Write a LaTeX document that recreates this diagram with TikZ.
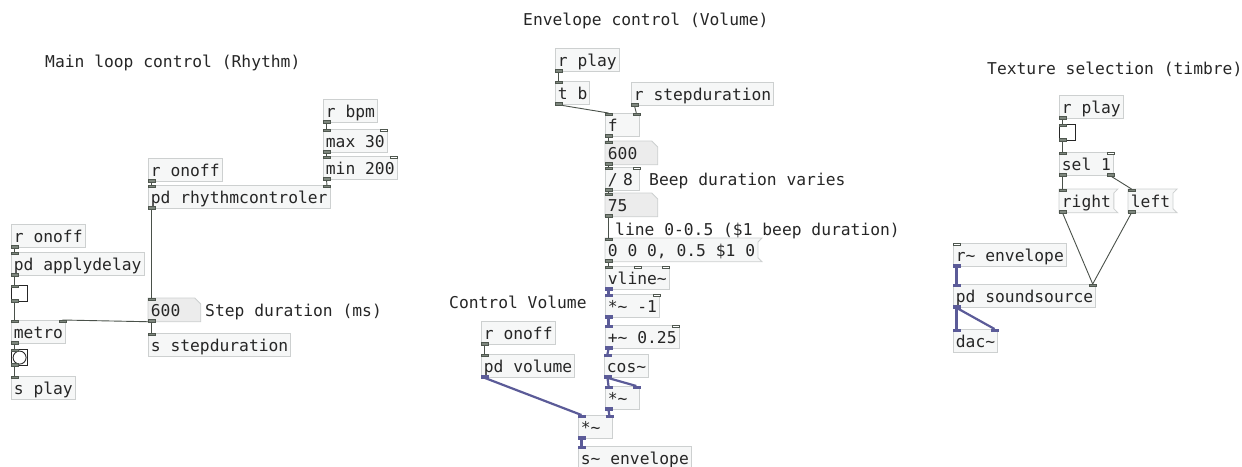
\documentclass[tikz,border=0pt]{standalone}
\usepackage{fontspec}
\setmonofont{DejaVu Sans Mono}
\pgfdeclarelayer{bg}
\pgfsetlayers{bg,main}

\definecolor{boxfill}{HTML}{F6F7F7}
\definecolor{boxline}{HTML}{CDD0D0}
\definecolor{numfill}{HTML}{ECECEC}
\definecolor{iofill}{HTML}{7D867D}
\definecolor{ioline}{HTML}{4F574F}
\definecolor{wirec}{HTML}{4A514A}
\definecolor{sigc}{HTML}{5B5B98}
\definecolor{inkc}{HTML}{262626}

\tikzset{
  obj/.style={draw=boxline, fill=boxfill, anchor=north west, inner xsep=2.5pt, inner ysep=1.5pt,
    text height=16.5pt, text depth=3.5pt, text=inkc, line width=0.8pt},
  short/.style={text width=29pt, align=left},
  numbox/.style={obj, draw=none, fill=none, text width=47pt, align=left},
  msgbox/.style={obj, draw=none, fill=none},
  toggle/.style={draw=black!85, fill=white, line width=1.2pt, minimum size=16pt, inner sep=0pt, anchor=north west},
  cmt/.style={anchor=base west, inner sep=0pt, text=inkc},
  iolet/.style={fill=iofill, draw=ioline, line width=0.5pt},
  iofree/.style={fill=white, draw=ioline, line width=0.5pt},
  iosig/.style={fill=sigc, draw=sigc, line width=0.5pt},
  wire/.style={draw=wirec, line width=0.9pt},
  sigwire/.style={draw=sigc, line width=2.2pt}
}

% inlets and outlets
\newcommand{\inL}[2][iolet]{\filldraw[#1] (#2.north west) rectangle ++(7,2.5);}
\newcommand{\inR}[2][iolet]{\filldraw[#1] ([xshift=-7pt]#2.north east) rectangle ++(7,2.5);}
\newcommand{\outL}[2][iolet]{\filldraw[#1] (#2.south west) rectangle ++(7,-2.5);}
\newcommand{\outR}[2][iolet]{\filldraw[#1] ([xshift=-7pt]#2.south east) rectangle ++(7,-2.5);}
% number box and message box outlines
\newcommand{\numshape}[1]{\begin{pgfonlayer}{bg}
  \filldraw[draw=boxline, fill=numfill, line width=0.8pt] (#1.north west) -- ([xshift=-6pt]#1.north east)
    -- ([yshift=-6pt]#1.north east) -- (#1.south east) -- (#1.south west) -- cycle;\end{pgfonlayer}}
\newcommand{\msgshape}[1]{\begin{pgfonlayer}{bg}
  \filldraw[draw=boxline, fill=boxfill, line width=0.8pt] (#1.north west) -- ([xshift=4pt]#1.north east)
    -- ([yshift=-4pt]#1.north east) -- ([yshift=4pt]#1.south east) -- ([xshift=4pt]#1.south east)
    -- (#1.south west) -- cycle;\end{pgfonlayer}}
\newcommand{\tl}{\textasciitilde}

\begin{document}
\begin{tikzpicture}[x=1pt, y=-1pt, font=\ttfamily\fontsize{16.3}{19}\selectfont]
\useasboundingbox (0,0) rectangle (1242,466);
\clip (0,0) rectangle (1242,466);

% main loop control
\node[cmt] (tRhythm) at (45,67) {Main loop control (Rhythm)};
\node[obj] (rbpm) at (323,99) {r bpm};
\node[obj] (maxb) at (323,129) {max 30};
\node[obj] (minb) at (323,156) {min 200};
\node[obj] (ronoffA) at (148,158) {r onoff};
\node[obj] (rhythm) at (148,185) {pd rhythmcontroler};
\node[obj] (ronoffB) at (11,224) {r onoff};
\node[obj] (delay) at (11,252) {pd applydelay};
\node[toggle] (togA) at (11,285) {};
\node[numbox] (numA) at (148,298) {600}; \numshape{numA}
\node[cmt] (cStep) at (205,316) {Step duration (ms)};
\node[obj] (metro) at (11,320) {metro};
\node[toggle] (bangA) at (11,349) {};
\draw[black!85, line width=0.9pt] (bangA.center) circle (6.5pt);
\node[obj] (splay) at (11,376) {s play};
\node[obj] (sstep) at (148,333) {s stepduration};

% envelope control
\node[cmt] (tEnv) at (523,25) {Envelope control (Volume)};
\node[obj] (rplayB) at (555,48) {r play};
\node[obj] (tb) at (555,81) {t b};
\node[obj] (rstep) at (631,82) {r stepduration};
\node[obj, short] (fbox) at (605,113) {f};
\node[numbox] (numB) at (605,141) {600}; \numshape{numB}
\node[obj, short] (divb) at (605,167) {/ 8};
\node[cmt] (cBeep) at (649,185) {Beep duration varies};
\node[numbox] (numC) at (605,193) {75}; \numshape{numC}
\node[cmt] (cLine) at (615,235) {line 0-0.5 (\$1 beep duration)};
\node[msgbox] (msg) at (605,238) {0 0 0, 0.5 \$1 0}; \msgshape{msg}
\node[obj] (vline) at (605,266) {vline\tl};
\node[obj] (mulA) at (605,294) {*\tl{} -1};
\node[obj] (addb) at (605,325) {+\tl{} 0.25};
\node[obj] (cosb) at (604,354) {cos\tl};
\node[obj, short] (mulB) at (605,386) {*\tl};
\node[obj, short] (mulC) at (578,415) {*\tl};
\node[obj] (senv) at (578,446) {s\tl{} envelope};
\node[cmt] (cVol) at (449,308) {Control Volume};
\node[obj] (ronoffC) at (481,321) {r onoff};
\node[obj] (vol) at (481,354) {pd volume};

% texture selection
\node[cmt] (tTex) at (987,74) {Texture selection (timbre)};
\node[obj] (rplayC) at (1059,95) {r play};
\node[toggle] (togB) at (1059,124) {};
\node[obj] (sel) at (1059,152) {sel 1};
\node[msgbox] (mright) at (1059,189) {right}; \msgshape{mright}
\node[msgbox] (mleft) at (1128,189) {left}; \msgshape{mleft}
\node[obj] (renv) at (953,243) {r\tl{} envelope};
\node[obj] (snd) at (953,284) {pd soundsource};
\node[obj] (dac) at (953,329) {dac\tl};

% control connections
\foreach \a/\b in {rbpm/maxb, maxb/minb, ronoffA/rhythm, rhythm/numA, ronoffB/delay, delay/togA,
    togA/metro, numA/sstep, metro/bangA, bangA/splay, rplayB/tb, tb/fbox, fbox/numB, numB/divb,
    divb/numC, numC/msg, msg/vline, ronoffC/vol, rplayC/togB, togB/sel, sel/mright}
  \draw[wire] ([xshift=3.5pt]\a.south west) -- ([xshift=3.5pt]\b.north west);
\foreach \a/\b in {minb/rhythm, numA/metro, rstep/fbox, mright/snd, mleft/snd}
  \draw[wire] ([xshift=3.5pt]\a.south west) -- ([xshift=-3.5pt]\b.north east);
\draw[wire] ([xshift=-3.5pt]sel.south east) -- ([xshift=3.5pt]mleft.north west);

% signal connections
\foreach \a/\b in {vline/mulA, mulA/addb, addb/cosb, cosb/mulB, vol/mulC, mulC/senv, renv/snd, snd/dac}
  \draw[sigwire] ([xshift=3.5pt]\a.south west) -- ([xshift=3.5pt]\b.north west);
\foreach \a/\b in {cosb/mulB, mulB/mulC, snd/dac}
  \draw[sigwire] ([xshift=3.5pt]\a.south west) -- ([xshift=-3.5pt]\b.north east);

% iolets
\foreach \n in {rbpm, maxb, minb, ronoffA, rhythm, ronoffB, delay, togA, numA, metro, bangA,
    rplayB, tb, rstep, fbox, numB, divb, numC, msg, ronoffC, rplayC, togB, sel, mright, mleft}
  {\outL{\n}}
\foreach \n in {maxb, minb, rhythm, delay, togA, numA, metro, bangA, splay, sstep,
    tb, fbox, numB, divb, numC, msg, vline, vol, togB, sel, mright, mleft}
  {\inL{\n}}
\foreach \n in {rhythm, metro, fbox, snd} {\inR{\n}}
\foreach \n in {maxb, minb, divb, mulA, addb, sel} {\inR[iofree]{\n}}
\inL[iofree]{renv}
\outR{sel}
\filldraw[iofree] ([xshift=-3.5pt]vline.north) rectangle ++(7,2.5);
\inR[iofree]{vline}
\foreach \n in {vline, mulA, addb, cosb, mulB, mulC, vol, renv, snd} {\outL[iosig]{\n}}
\foreach \n in {mulA, addb, cosb, mulB, mulC, senv, snd, dac} {\inL[iosig]{\n}}
\foreach \n in {mulB, mulC, dac} {\inR[iosig]{\n}}
\end{tikzpicture}
\end{document}
